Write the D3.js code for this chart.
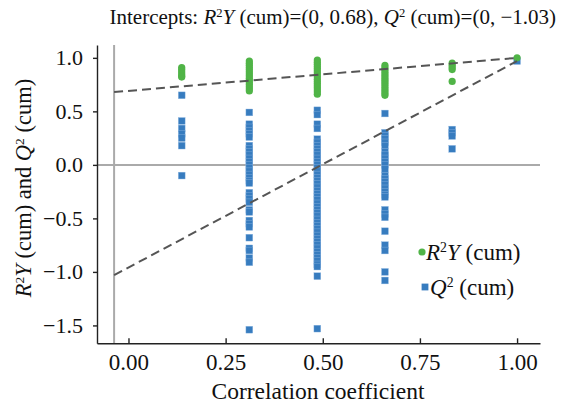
<!DOCTYPE html>
<html>
<head>
<meta charset="utf-8">
<script src="https://cdn.jsdelivr.net/npm/d3@7"></script>
<style>
  body { margin: 0; background: #fff; }
</style>
</head>
<body>
<div id="content"></div>
<script>
var width = 561;
var height = 405;
var serif = "'Liberation Serif', 'Times New Roman', Times, serif";

// correlation coefficient of each permutation group (x positions)
var corrCoef = [0.137, 0.311, 0.486, 0.660, 0.833, 1.0];

// R2Y (cum) values per group
var r2yCum = [
    [0.91, 0.89, 0.87, 0.85, 0.83, 0.82],
    [0.97, 0.95, 0.93, 0.91, 0.89, 0.87, 0.85, 0.83, 0.81, 0.79, 0.77, 0.75, 0.73, 0.71, 0.69],
    [0.98, 0.96, 0.94, 0.92, 0.90, 0.88, 0.86, 0.84, 0.82, 0.80, 0.78, 0.76, 0.74, 0.72, 0.70, 0.68, 0.66],
    [0.93, 0.91, 0.89, 0.87, 0.85, 0.83, 0.81, 0.79, 0.77, 0.75, 0.73, 0.71, 0.69, 0.67, 0.65],
    [0.95, 0.93, 0.91, 0.89, 0.78],
    [1.0]
];

// Q2 (cum) values per group
var q2Cum = [
    [0.65, 0.41, 0.34, 0.29, 0.25, 0.18, -0.10],
    [0.49, 0.38, 0.35, 0.32, 0.29, 0.26, 0.18, 0.15, 0.12, 0.09, 0.06, 0.03, 0.0, -0.03, -0.06,
     -0.09, -0.12, -0.15, -0.17, -0.26, -0.29, -0.32, -0.35, -0.42, -0.44, -0.52, -0.55, -0.58,
     -0.68, -0.78, -0.80, -0.87, -0.91, -1.54],
    [0.51, 0.47, 0.38, 0.34, 0.24, 0.21, 0.18, 0.15, 0.12, 0.09, 0.06, 0.03, 0.0, -0.03, -0.06,
     -0.09, -0.12, -0.15, -0.18, -0.21, -0.24, -0.27, -0.30, -0.33, -0.36, -0.39, -0.42, -0.45,
     -0.48, -0.51, -0.54, -0.57, -0.60, -0.63, -0.66, -0.69, -0.72, -0.75, -0.78, -0.81, -0.84,
     -0.87, -0.90, -0.93, -0.95, -1.04, -1.53],
    [0.48, 0.30, 0.27, 0.24, 0.21, 0.18, 0.12, 0.09, 0.06, 0.03, 0.0, -0.04, -0.10, -0.13, -0.16,
     -0.19, -0.22, -0.25, -0.28, -0.30, -0.42, -0.46, -0.49, -0.62, -0.75, -0.80, -1.00, -1.08],
    [0.33, 0.30, 0.27, 0.15],
    [0.97]
];

// regression lines: value at the reference line and at the original model
var refLineX = -0.037;
var r2yLine = [0.68, 1.0];
var q2Line = [-1.03, 0.97];

var xTicks = [0, 0.25, 0.5, 0.75, 1.0];
var yTicks = [-1.5, -1.0, -0.5, 0, 0.5, 1.0];

var green = '#50b447';
var blue = '#377cbf';

var svg = d3.select('div#content').append('svg')
    .attr('width', width)
    .attr('height', height)
    .style('font-family', serif);

svg.append('rect').attr('width', width).attr('height', height).attr('fill', '#fff');

var x = d3.scaleLinear().domain([-0.081, 1.059]).range([97, 540]);
var y = d3.scaleLinear().domain([-1.667, 1.12]).range([343.3, 45]);

// grey reference lines
svg.append('line')
    .attr('x1', x.range()[0]).attr('x2', x.range()[1])
    .attr('y1', y(0)).attr('y2', y(0))
    .attr('stroke', '#aaa').attr('stroke-width', 2);
svg.append('line')
    .attr('x1', x(refLineX)).attr('x2', x(refLineX))
    .attr('y1', y.range()[1]).attr('y2', y.range()[0])
    .attr('stroke', '#aaa').attr('stroke-width', 2);

// points
var r2Pts = [], q2Pts = [];
corrCoef.forEach(function(c, i) {
    r2yCum[i].forEach(function(v) { r2Pts.push([c, v]); });
    q2Cum[i].forEach(function(v) { q2Pts.push([c, v]); });
});

var sq = 6.8;
svg.append('g').selectAll('rect')
    .data(q2Pts).enter()
        .append('rect')
            .attr('x', function(d) { return x(d[0]) - sq / 2; })
            .attr('y', function(d) { return y(d[1]) - sq / 2; })
            .attr('width', sq).attr('height', sq)
            .attr('fill', blue)
            .attr('stroke', '#8db6e0').attr('stroke-width', 0.4);

svg.append('g').selectAll('circle')
    .data(r2Pts).enter()
        .append('circle')
            .attr('cx', function(d) { return x(d[0]); })
            .attr('cy', function(d) { return y(d[1]); })
            .attr('r', 3.6)
            .attr('fill', green);

// dashed regression lines
[r2yLine, q2Line].forEach(function(l) {
    svg.append('line')
        .attr('x1', x(refLineX)).attr('y1', y(l[0]))
        .attr('x2', x(1.0)).attr('y2', y(l[1]))
        .attr('stroke', '#555').attr('stroke-width', 2)
        .attr('stroke-dasharray', '9,5');
});

// axes
svg.append('g')
    .attr('class', 'x-axis')
    .attr('transform', 'translate(0,' + y.range()[0] + ')')
    .call(d3.axisBottom(x).tickValues(xTicks).tickFormat(d3.format('.2f'))
        .tickSizeInner(-5).tickSizeOuter(0).tickPadding(10));
svg.append('g')
    .attr('class', 'y-axis')
    .attr('transform', 'translate(' + x.range()[0] + ',0)')
    .call(d3.axisLeft(y).tickValues(yTicks).tickFormat(d3.format('.1f'))
        .tickSizeInner(4).tickSizeOuter(0).tickPadding(10));

svg.selectAll('.domain, .tick line').attr('stroke', '#222').attr('stroke-width', 1.4);
svg.selectAll('g').attr('font-family', serif);
svg.selectAll('.x-axis .tick text').attr('font-size', 23).attr('fill', '#111');
svg.selectAll('.y-axis .tick text').attr('font-size', 22).attr('fill', '#111');

// label helper: parts = [text, italic?, superscript?, back to baseline?]
function richText(sel, parts) {
    parts.forEach(function(p) {
        var t = sel.append('tspan').text(p[0]);
        if (p[1]) t.attr('font-style', 'italic');
        if (p[2]) t.attr('font-size', '0.6em').attr('dy', '-0.55em');
        else if (p[3]) t.attr('dy', '0.33em');
    });
}

var title = svg.append('text')
    .attr('x', 556).attr('y', 24)
    .attr('text-anchor', 'end')
    .attr('font-family', serif)
    .attr('font-size', 21).attr('fill', '#111');
richText(title, [['Intercepts: '], ['R', true], ['2', false, true], ['Y', true, false, true],
    [' (cum)=(0, 0.68), '], ['Q', true], ['2', false, true], [' (cum)=(0, \u22121.03)', false, false, true]]);

svg.append('text')
    .attr('x', 318).attr('y', 399)
    .attr('text-anchor', 'middle')
    .attr('font-family', serif)
    .attr('font-size', 23.5).attr('fill', '#111')
    .text('Correlation coefficient');

var yLabel = svg.append('text')
    .attr('transform', 'translate(31,188) rotate(-90)')
    .attr('text-anchor', 'middle')
    .attr('font-family', serif)
    .attr('font-size', 22.5).attr('fill', '#111');
richText(yLabel, [['R', true], ['2', false, true], ['Y', true, false, true],
    [' (cum) and '], ['Q', true], ['2', false, true], [' (cum)', false, false, true]]);

// legend
var legend = svg.append('g').attr('font-family', serif);
legend.append('circle').attr('cx', 422).attr('cy', 252).attr('r', 3.6).attr('fill', green);
legend.append('rect').attr('x', 421.6).attr('y', 283.6).attr('width', 6.8).attr('height', 6.8).attr('fill', blue);
var l1 = legend.append('text').attr('x', 426).attr('y', 260).attr('font-size', 23).attr('fill', '#111');
richText(l1, [['R', true], ['2', false, true], ['Y', true, false, true], [' (cum)']]);
var l2 = legend.append('text').attr('x', 430).attr('y', 295).attr('font-size', 23).attr('fill', '#111');
richText(l2, [['Q', true], ['2', false, true], [' (cum)', false, false, true]]);
</script>
</body>
</html>
